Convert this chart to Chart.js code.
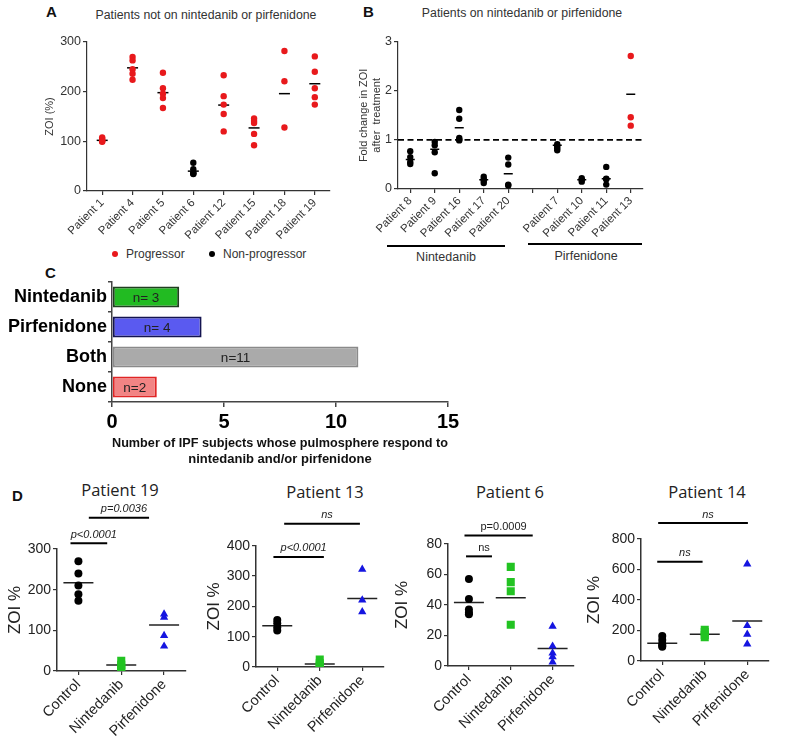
<!DOCTYPE html>
<html><head><meta charset="utf-8">
<script src="https://cdn.jsdelivr.net/npm/chart.js@4.4.0/dist/chart.umd.min.js"></script>
<style>
html,body{margin:0;padding:0;background:#fff;}
body{width:787px;height:737px;position:relative;overflow:hidden;font-family:"Liberation Sans",Arial,sans-serif;color:#333;}
canvas{position:absolute;}
.t{position:absolute;white-space:nowrap;line-height:1;}
.c{text-align:center;width:300px;}
.letter{font-weight:bold;font-size:15px;color:#111;}
.hl{position:absolute;height:0;border-top:2px solid #000;}
.dot{position:absolute;width:6px;height:6px;border-radius:50%;}
</style></head><body>
<div class="t letter" style="left:46px;top:4px;">A</div>
<div class="t letter" style="left:363px;top:4px;">B</div>
<div class="t letter" style="left:45px;top:265px;">C</div>
<div class="t letter" style="left:12px;top:488px;">D</div>
<div class="t c" style="left:56px;top:9px;font-size:12.3px;">Patients not on nintedanib or pirfenidone</div>
<div class="t c" style="left:372px;top:7px;font-size:12.3px;">Patients on nintedanib or pirfenidone</div>
<div class="dot" style="left:112px;top:251px;background:#e8191c;"></div>
<div class="t" style="left:126px;top:248px;font-size:12px;">Progressor</div>
<div class="dot" style="left:209px;top:251px;background:#000;"></div>
<div class="t" style="left:223px;top:248px;font-size:12px;">Non-progressor</div>
<div class="hl" style="left:387px;top:245px;width:118px;"></div>
<div class="t c" style="left:296px;top:251px;font-size:12.5px;">Nintedanib</div>
<div class="hl" style="left:528px;top:243px;width:114px;"></div>
<div class="t c" style="left:436px;top:250px;font-size:12.5px;">Pirfenidone</div>
<div class="t c" style="left:-30px;top:482px;font-size:16.5px;font-family:'Open Sans',sans-serif;color:#222;">Patient 19</div>
<div class="t c" style="left:175px;top:484px;font-size:16.5px;font-family:'Open Sans',sans-serif;color:#222;">Patient 13</div>
<div class="t c" style="left:360px;top:484px;font-size:16.5px;font-family:'Open Sans',sans-serif;color:#222;">Patient 6</div>
<div class="t c" style="left:557px;top:484px;font-size:16.5px;font-family:'Open Sans',sans-serif;color:#222;">Patient 14</div>
<script>
// ---------- DATA ----------
const aPatients = ['Patient 1','Patient 4','Patient 5','Patient 6','Patient 12','Patient 15','Patient 18','Patient 19'];
const aGroup = ['P','P','P','N','P','P','P','P'];
const aValues = [
  [108,105,102,100,99],
  [270,263,245,236,224],
  [238,207,196,187,167],
  [57,44,37,35,34],
  [233,191,174,155,120],
  [146,141,137,115,92],
  [282,221,128],
  [271,240,207,189,174]
];
const aMeans = [102,248,198,40,173,127,196,216];

const bPatients = ['Patient 8','Patient 9','Patient 16','Patient 17','Patient 20','','Patient 7','Patient 10','Patient 11','Patient 13'];
const bGroup = ['N','N','N','N','N','','N','N','N','P'];
const bValues = [
  [0.77,0.65,0.55,0.51],
  [0.96,0.89,0.75,0.32],
  [1.61,1.43,1.04,1.01,0.99],
  [0.25,0.2,0.17,0.12],
  [0.64,0.5,0.09,0.07],
  [],
  [0.91,0.87,0.83,0.79],
  [0.22,0.19,0.15],
  [0.45,0.21,0.2,0.09],
  [2.71,1.46,1.29]
];
const bMeans = [0.6,0.81,1.25,0.19,0.31,null,0.89,0.19,0.21,1.93];
const bReference = 1;

const cCategories = ['Nintedanib','Pirfenidone','Both','None'];
const cValues = [3,4,11,2];
const cText = ['n= 3','n= 4','n=11','n=2'];

const dGroups = ['Control','Nintedanib','Pirfenidone'];
const p19Control = [270,240,210,189,173];
const p19Nintedanib = [25,15,8,4];
const p19Pirfenidone = [140,132,87,61];
const p19Means = [217,15,113];
const p13Control = [155,144,131,120];
const p13Nintedanib = [25,12,5,1];
const p13Pirfenidone = [322,221,182];
const p13Means = [136,10,226];
const p6Control = [57,44,37,35,34];
const p6Nintedanib = [65,55,49,27];
const p6Pirfenidone = [26,13,8.5,6,2.6];
const p6Means = [41.6,44.7,11.4];
const p14Control = [164,137,111,100,94];
const p14Nintedanib = [205,190,170,155];
const p14Pirfenidone = [635,231,175,111];
const p14Means = [116,175,262];
// significance bars: from/to in category units, at in data units
const p19Sig = [{from:-0.185,to:0.672,at:314,text:'p<0.0001',italic:true},{from:0.243,to:1.649,at:377,text:'p=0.0036',italic:true}];
const p13Sig = [{from:-0.09,to:1.097,at:363,text:'p<0.0001',italic:true},{from:0.163,to:1.945,at:472,text:'ns',italic:true}];
const p6Sig = [{from:-0.069,to:0.551,at:71.9,text:'ns',italic:false},{from:-0.106,to:1.525,at:85.5,text:'p=0.0009',italic:false}];
const p14Sig = [{from:-0.118,to:0.949,at:650,text:'ns',italic:true},{from:-0.096,to:2.015,at:903,text:'ns',italic:true}];

// ---------- SETUP ----------
const FONT = '"Liberation Sans", Arial, sans-serif';
Chart.defaults.font.family = FONT;
Chart.defaults.color = '#333';
Chart.defaults.animation = false;
Chart.defaults.plugins.legend.display = false;
Chart.defaults.plugins.tooltip.enabled = false;

function mk(id, left, top, w, h){
  const c = document.createElement('canvas');
  c.id = id; c.width = w; c.height = h;
  c.style.left = left+'px'; c.style.top = top+'px';
  c.style.width = w+'px'; c.style.height = h+'px';
  document.body.appendChild(c);
  return c.getContext('2d');
}
function pts(labels, values, groups, g){
  const out = [];
  values.forEach((arr,i)=>{ if(groups && groups[i]!==g) return; arr.forEach(v=>out.push({x:labels[i], y:v})); });
  return out;
}
function meanPts(labels, means){
  const out = [];
  means.forEach((m,i)=>{ if(m!==null) out.push({x:labels[i], y:m}); });
  return out;
}
const axisGrid = (c)=>({drawOnChartArea:false, tickLength:4, color:c, lineWidth:1.2});

// ---------- PANEL A ----------
new Chart(mk('cA',27,30,310,217), {
  type:'scatter',
  data:{labels:aPatients, datasets:[
    {data:pts(aPatients,aValues,aGroup,'P'), backgroundColor:'#e8191c', borderWidth:0, pointRadius:3.2},
    {data:pts(aPatients,aValues,aGroup,'N'), backgroundColor:'#000', borderWidth:0, pointRadius:3.2},
    {data:meanPts(aPatients,aMeans), pointStyle:'line', pointRadius:5.5, borderColor:'#000', borderWidth:1.5}
  ]},
  options:{responsive:false, layout:{padding:{top:12,right:7,left:0,bottom:0}},
    scales:{
      x:{type:'category', labels:aPatients, offset:true, grid:axisGrid('#333'), border:{color:'#333',width:1.2},
         ticks:{autoSkip:false, maxRotation:45, minRotation:45, font:{size:11.5}, color:'#333', padding:1},
         afterFit:s=>{s.height=56;}},
      y:{min:0, max:300, ticks:{stepSize:100, font:{size:12.5}, color:'#333', padding:2}, grid:axisGrid('#333'),
         border:{color:'#333',width:1.2},
         title:{display:true, text:'ZOI (%)', font:{size:11}, color:'#333', padding:{top:16.4,bottom:0}},
         afterFit:s=>{s.width=60;}}
    }}
});

// ---------- PANEL B ----------
const refLinePlugin = {id:'refLine', beforeDatasetsDraw(chart){
  const {ctx, chartArea:a, scales:{y}} = chart; const py = y.getPixelForValue(bReference);
  ctx.save(); ctx.setLineDash([6,3.5]); ctx.lineWidth=1.6; ctx.strokeStyle='#000';
  ctx.beginPath(); ctx.moveTo(a.left,py); ctx.lineTo(a.right,py); ctx.stroke(); ctx.restore();
}};
new Chart(mk('cB',346,28,304,217), {
  type:'scatter',
  data:{labels:bPatients, datasets:[
    {data:pts(bPatients,bValues,bGroup,'N'), backgroundColor:'#000', borderWidth:0, pointRadius:3.2},
    {data:pts(bPatients,bValues,bGroup,'P'), backgroundColor:'#e8191c', borderWidth:0, pointRadius:3.2},
    {data:meanPts(bPatients,bMeans), pointStyle:'line', pointRadius:4.5, borderColor:'#000', borderWidth:1.5}
  ]},
  options:{responsive:false, layout:{padding:{top:13.7,right:7,left:0,bottom:0}},
    scales:{
      x:{type:'category', labels:bPatients, offset:true, grid:axisGrid('#333'), border:{color:'#333',width:1.2},
         ticks:{autoSkip:false, maxRotation:45, minRotation:45, font:{size:11.5}, color:'#333', padding:1},
         afterFit:s=>{s.height=56;}},
      y:{min:0, max:3, ticks:{stepSize:1, font:{size:12.5}, color:'#333', padding:2}, grid:axisGrid('#333'),
         border:{color:'#333',width:1.2},
         title:{display:true, text:['Fold change in ZOI','after  treatment'], font:{size:11}, color:'#333', padding:{top:11.4,bottom:0}},
         afterFit:s=>{s.width=52;}}
    }},
  plugins:[refLinePlugin]
});

// ---------- PANEL C ----------
const barTextPlugin = {id:'barText', afterDatasetsDraw(chart){
  const ctx = chart.ctx; const meta = chart.getDatasetMeta(0);
  ctx.save(); ctx.font = '13.5px '+FONT; ctx.fillStyle = '#222'; ctx.textAlign='center'; ctx.textBaseline='middle';
  meta.data.forEach((bar,i)=>ctx.fillText(cText[i], (bar.x+bar.base)/2, bar.y+1));
  ctx.restore();
}};
new Chart(mk('cC',0,268,475,201), {
  type:'bar',
  data:{labels:cCategories, datasets:[{data:cValues,
    backgroundColor:['#22bb22','#5a5af0','#aaaaaa','#f28484'],
    borderColor:['#1f3f1f','#141450','#8a8a8a','#e02525'],
    borderWidth:2, borderSkipped:false, barPercentage:0.7, categoryPercentage:1}]},
  options:{responsive:false, indexAxis:'y', layout:{padding:{top:14,right:27,left:0,bottom:0}},
    scales:{
      x:{min:0, max:15, ticks:{stepSize:5, font:{size:20, weight:'bold'}, color:'#000', padding:3},
         grid:{drawOnChartArea:false, tickLength:5, color:'#444', lineWidth:1.5}, border:{color:'#444',width:1.5},
         title:{display:true, text:['Number of IPF subjects whose pulmosphere respond to','nintedanib and/or pirfenidone'],
                font:{size:13, weight:'bold'}, color:'#111', padding:{top:0,bottom:2}},
         afterFit:s=>{s.height=67;}},
      y:{ticks:{font:{size:18, weight:'bold'}, color:'#000', padding:1},
         grid:{drawOnChartArea:false, tickLength:4, color:'#444', lineWidth:1.5}, border:{color:'#444',width:1.5},
         afterFit:s=>{s.width=112;}}
    }},
  plugins:[barTextPlugin]
});

// ---------- PANEL D ----------
function sigPlugin(bars){ return {id:'sig', afterDraw(chart){
  const {ctx, scales:{x,y}} = chart;
  ctx.save();
  bars.forEach(b=>{
    const x1=x.getPixelForValue(b.from), x2=x.getPixelForValue(b.to), py=y.getPixelForValue(b.at);
    ctx.strokeStyle='#000'; ctx.lineWidth=2; ctx.beginPath(); ctx.moveTo(x1,py); ctx.lineTo(x2,py); ctx.stroke();
    ctx.font=(b.italic?'italic ':'')+'11px '+FONT; ctx.fillStyle='#222'; ctx.textAlign='center'; ctx.textBaseline='bottom';
    ctx.fillText(b.text,(x1+x2)/2+5, py-3);
  });
  ctx.restore();
}};}
function dChart(id,left,top,w,h,padTop,padRight,yWidth,titlePad,max,step,control,nint,pirf,means,bars){
  new Chart(mk(id,left,top,w,h), {
    type:'scatter',
    data:{labels:dGroups, datasets:[
      {data:control.map(v=>({x:'Control',y:v})), pointStyle:'circle', pointRadius:4, backgroundColor:'#000', borderWidth:0},
      {data:nint.map(v=>({x:'Nintedanib',y:v})), pointStyle:'rect', pointRadius:5.7, backgroundColor:'#22c322', borderWidth:0},
      {data:pirf.map(v=>({x:'Pirfenidone',y:v})), pointStyle:'triangle', pointRadius:4.8, backgroundColor:'#1515e0', borderWidth:0},
      {data:meanPts(dGroups,means), pointStyle:'line', pointRadius:15, borderColor:'#222', borderWidth:1.5}
    ]},
    options:{responsive:false, layout:{padding:{top:padTop,right:padRight,left:0,bottom:0}},
      scales:{
        x:{type:'category', labels:dGroups, offset:true, grid:axisGrid('#333'), border:{color:'#333',width:1.5},
           ticks:{autoSkip:false, maxRotation:45, minRotation:45, font:{size:14.5}, color:'#222', padding:1},
           afterFit:s=>{s.height=66;}},
        y:{min:0, max:max, ticks:{stepSize:step, font:{size:14}, color:'#222', padding:2}, grid:axisGrid('#333'),
           border:{color:'#333',width:1.5},
           title:{display:true, text:'ZOI %', font:{size:17}, color:'#222', padding:{top:titlePad,bottom:0}},
           afterFit:s=>{s.width=yWidth;}}
      }},
    plugins:[sigPlugin(bars)]
  });
}
dChart('cD1',0,500,202,237,49,5,57,4.8,300,100,p19Control,p19Nintedanib,p19Pirfenidone,p19Means,p19Sig);
dChart('cD2',200,500,200,233,45.7,5,56,3.8,400,100,p13Control,p13Nintedanib,p13Pirfenidone,p13Means,p13Sig);
dChart('cD3',390,500,200,232,44,5,58,1.8,80,20,p6Control,p6Nintedanib,p6Pirfenidone,p6Means,p6Sig);
dChart('cD4',583,500,202,227,38.8,8,58,0.8,800,200,p14Control,p14Nintedanib,p14Pirfenidone,p14Means,p14Sig);
</script>
</body></html>
